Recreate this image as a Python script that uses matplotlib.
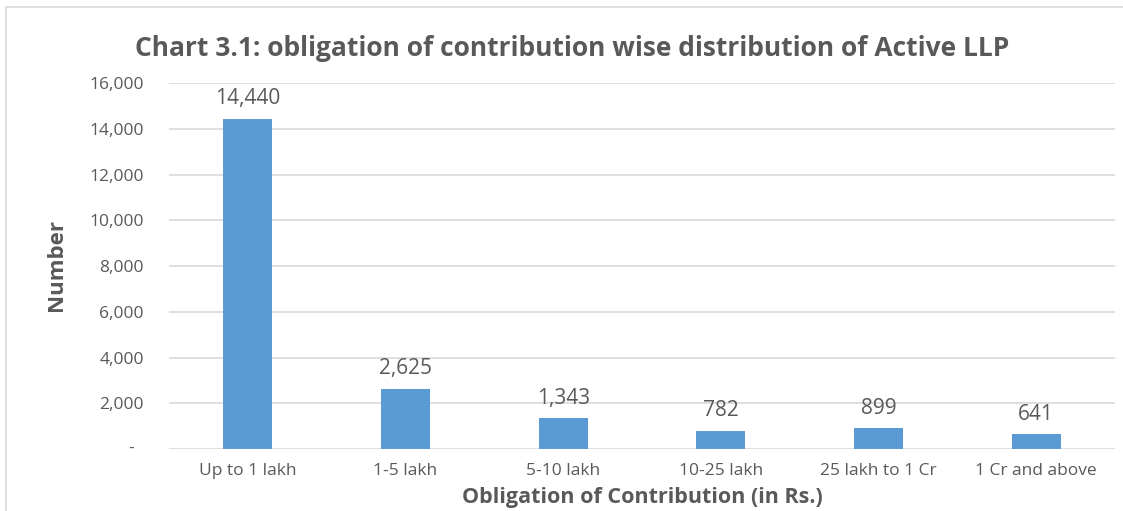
import matplotlib
matplotlib.use("Agg")
import matplotlib.pyplot as plt
from matplotlib.ticker import FuncFormatter
from matplotlib.patches import Rectangle

CATEGORIES = ["Up to 1 lakh", "1-5 lakh", "5-10 lakh", "10-25 lakh",
              "25 lakh to 1 Cr", "1 Cr and above"]
COUNTS = [14440, 2625, 1343, 782, 899, 641]
Y_TICKS = [0, 2000, 4000, 6000, 8000, 10000, 12000, 14000, 16000]

TEXT = "#595959"
GRID = "#D9D9D9"
BAR = "#5B9BD5"

plt.rcParams["font.family"] = ["Open Sans", "DejaVu Sans"]

W, H = 1123, 511
fig = plt.figure(figsize=(W / 100, H / 100), dpi=100)
ax = fig.add_axes([169 / W, 1 - 449 / H, (1115 - 169) / W, (449 - 83) / H])

x = range(len(CATEGORIES))
ax.bar(x, COUNTS, width=0.31, color=BAR, zorder=3)
ax.set_xlim(-0.5, len(CATEGORIES) - 0.5)
ax.set_ylim(0, 16000)
ax.set_yticks(Y_TICKS)
# Excel accounting style: zero is a dash, drawn separately below
ax.yaxis.set_major_formatter(FuncFormatter(lambda v, p: "" if v == 0 else f"{int(v):,}"))
ax.set_xticks(list(x))
ax.set_xticklabels(CATEGORIES)
ax.grid(axis="y", color=GRID, lw=1.2, zorder=0)
for s in ax.spines.values():
    s.set_visible(False)
ax.tick_params(axis="both", length=0, colors=TEXT, labelsize=12.5)
ax.tick_params(axis="y", pad=18)
ax.tick_params(axis="x", pad=10)

ax.annotate("-", xy=(0, 0), xycoords=("axes fraction", "data"), xytext=(-27, 0),
            textcoords="offset points", ha="center", va="center", fontsize=12.5, color=TEXT)

for xi, v in zip(x, COUNTS):
    ax.annotate(f"{v:,}", (xi, v), xytext=(0, 7), textcoords="offset points",
                ha="center", va="bottom", fontsize=15, color=TEXT)

fig.text(642 / W, 1 - 497 / H, "Obligation of Contribution (in Rs.)", ha="center", va="center",
         fontsize=15.5, fontweight="bold", color=TEXT)
fig.text(57 / W, 1 - 265 / H, "Number", ha="center", va="center", rotation=90,
         fontsize=16, fontweight="bold", color=TEXT)

fig.text(572 / W, 1 - 48 / H, "Chart 3.1: obligation of contribution wise distribution of Active LLP",
         ha="center", va="center", fontsize=19, fontweight="bold", color=TEXT)

# chart frame (cropped on right and bottom)
fig.add_artist(Rectangle((6 / W, -0.1), 1.2, 1 - 7 / H + 0.1, transform=fig.transFigure,
                         fill=False, edgecolor=GRID, lw=1.2))

fig.savefig("out.png", dpi=100)
